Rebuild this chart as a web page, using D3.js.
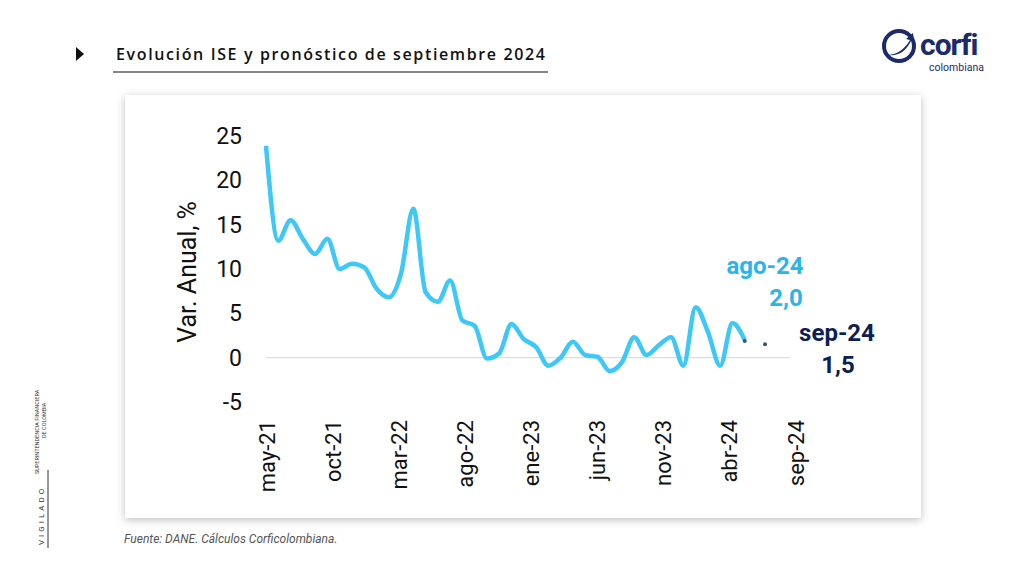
<!DOCTYPE html><html><head><meta charset="utf-8">
<script src="https://cdn.jsdelivr.net/npm/d3@7"></script>
<style>body{margin:0;background:#fff;font-family:Roboto,sans-serif}</style></head><body>
<svg id="c" width="1024" height="576"></svg>
<script>
const months=["may-21","jun-21","jul-21","ago-21","sep-21","oct-21","nov-21","dic-21","ene-22","feb-22","mar-22","abr-22","may-22","jun-22","jul-22","ago-22","sep-22","oct-22","nov-22","dic-22","ene-23","feb-23","mar-23","abr-23","may-23","jun-23","jul-23","ago-23","sep-23","oct-23","nov-23","dic-23","ene-24","feb-24","mar-24","abr-24","may-24","jun-24","jul-24","ago-24","sep-24"];
const ise=[23.9,13.2,15.5,13.4,11.7,13.4,10.0,10.6,10.2,7.8,6.8,9.5,16.8,7.4,6.3,8.7,4.2,3.6,-0.1,0.5,3.8,2.1,1.2,-0.9,0,1.8,0.3,0.1,-1.5,-0.5,2.3,0.3,1.4,2.3,-0.9,5.7,2.9,-0.9,3.9,2.0];
const forecast=[{m:"sep-24",v:1.5}];
const yTicks=[25,20,15,10,5,0,-5];
const xTicks=["may-21","oct-21","mar-22","ago-22","ene-23","jun-23","nov-23","abr-24","sep-24"];

const svg=d3.select("#c");
const defs=svg.append("defs");
const f=defs.append("filter").attr("id","sh").attr("x","-5%").attr("y","-5%").attr("width","110%").attr("height","115%");
f.append("feDropShadow").attr("dx",0).attr("dy",2).attr("stdDeviation",4).attr("flood-color","#000").attr("flood-opacity",0.25);
svg.append("rect").attr("x",125).attr("y",95).attr("width",796).attr("height",423).attr("fill","#fff").attr("filter","url(#sh)");

svg.append("path").attr("d","M76,47 L84,54 L76,61 Z").attr("fill","#111");
svg.append("text").attr("x",116).attr("y",60).attr("font-size",16).attr("font-family","'Open Sans'").attr("font-weight",600).attr("fill","#111")
 .attr("textLength",429).attr("lengthAdjust","spacing").text("Evolución ISE y pronóstico de septiembre 2024");
svg.append("line").attr("x1",113).attr("x2",548).attr("y1",72).attr("y2",72).attr("stroke","#111").attr("stroke-width",1.2);
const lg=svg.append("g");
lg.append("circle").attr("cx",899).attr("cy",46).attr("r",15).attr("fill","none").attr("stroke","#1b2a6b").attr("stroke-width",4);
lg.append("path").attr("d","M888,55 Q902,54 910,40 L906,39 L913,33 L914,42 L911,41 Q903,57 888,55Z").attr("fill","#1b2a6b");
lg.append("text").attr("x",920).attr("y",55).attr("font-size",30).attr("font-weight",700).attr("fill","#1b2a6b").attr("letter-spacing",-1).text("corfi");
lg.append("text").attr("x",929).attr("y",71).attr("font-size",10.5).attr("fill","#1b2a6b").text("colombiana");
svg.append("text").attr("transform","translate(44,545) rotate(-90)").attr("font-size",8).attr("letter-spacing",3).attr("fill","#333").text("VIGILADO");
svg.append("line").attr("x1",48).attr("x2",48).attr("y1",470).attr("y2",548).attr("stroke","#333");
svg.append("text").attr("transform","translate(39,474) rotate(-90)").attr("font-size",5.5).attr("fill","#333").text("SUPERINTENDENCIA FINANCIERA");
svg.append("text").attr("transform","translate(46,438) rotate(-90)").attr("font-size",5.5).attr("fill","#333").text("DE COLOMBIA");

const y=d3.scaleLinear().domain([-5,25]).range([402,136]);
const x=d3.scalePoint().domain(months).range([266,757]);
const xl=d3.scalePoint().domain(months).range([266,795]);

svg.append("line").attr("x1",266).attr("x2",790).attr("y1",y(0)).attr("y2",y(0)).attr("stroke","#ddd").attr("stroke-width",1.2);
const ya=svg.append("g").attr("transform","translate(250,0)").call(d3.axisLeft(y).tickValues(yTicks).tickSize(0).tickPadding(8).tickFormat(d=>d));
ya.select(".domain").remove();
ya.selectAll("text").attr("font-size",23).attr("font-family","Roboto").attr("fill","#111");
svg.append("text").attr("transform","translate(196,272) rotate(-90)").attr("text-anchor","middle").attr("font-size",25).attr("fill","#111").text("Var. Anual, %");

const xa=svg.append("g").attr("transform","translate(0,420)").call(d3.axisBottom(xl).tickValues(xTicks).tickSize(0).tickPadding(0));
xa.select(".domain").remove();
xa.selectAll("text").attr("font-size",22).attr("font-family","Roboto").attr("fill","#111")
 .attr("text-anchor","end").attr("dy",0).attr("transform","rotate(-90) translate(0,8)");

const line=d3.line().x((d,i)=>x(months[i])).y(d=>y(d)).curve(d3.curveMonotoneX);
svg.append("path").datum(ise).attr("d",line).attr("fill","none").attr("stroke","#3ec8f8").attr("stroke-width",4.5).attr("stroke-linejoin","round");
svg.append("circle").attr("cx",x("ago-24")).attr("cy",y(2.0)+1).attr("r",2).attr("fill","#2d5a6b");
svg.selectAll(".fc").data(forecast).join("circle").attr("cx",d=>x(d.m)+8).attr("cy",d=>y(d.v)).attr("r",2).attr("fill","#2d5a6b");

const lab=(t,xx,yy,c)=>svg.append("text").attr("x",xx).attr("y",yy).attr("text-anchor","middle").attr("font-size",24).attr("font-weight",700).attr("fill",c).text(t);
lab("ago-24",765,274,"#29b5ec");lab("2,0",786,306,"#29b5ec");
lab("sep-24",837,341,"#0c1f55");lab("1,5",838,373,"#0c1f55");

svg.append("text").attr("x",124).attr("y",543).attr("font-size",12).attr("font-style","italic").attr("fill","#555").text("Fuente: DANE. Cálculos Corficolombiana.");
</script></body></html>
